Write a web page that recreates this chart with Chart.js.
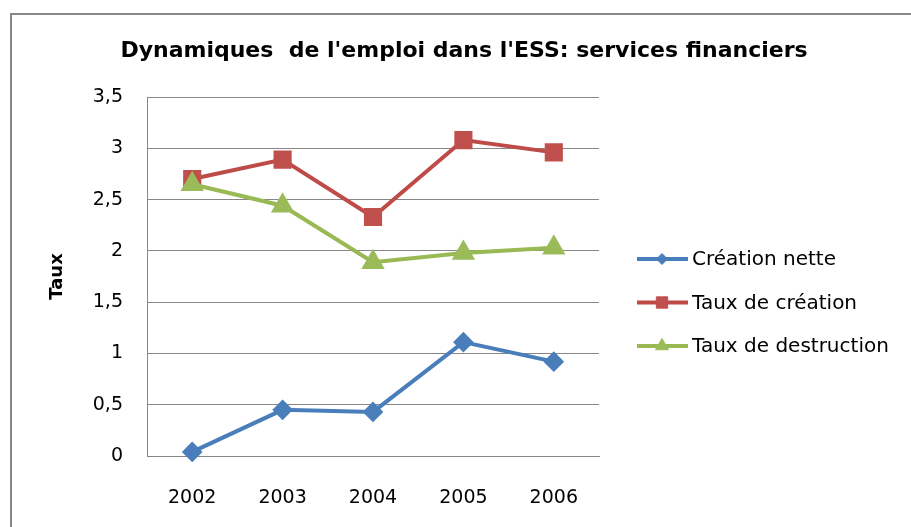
<!DOCTYPE html>
<html>
<head>
<meta charset="utf-8">
<script src="https://cdn.jsdelivr.net/npm/chart.js@4/dist/chart.umd.min.js"></script>
<style>
  html, body { margin: 0; padding: 0; background: #fff; }
  #wrap { width: 911px; height: 527px; position: relative; }
</style>
</head>
<body>
<div id="wrap"><canvas id="graphique" width="911" height="527"></canvas></div>
<script>
// Données
const annees = ['2002', '2003', '2004', '2005', '2006'];
const creationNette = [0.04, 0.45, 0.43, 1.11, 0.92];
const tauxCreation = [2.70, 2.89, 2.33, 3.08, 2.96];
const tauxDestruction = [2.65, 2.44, 1.89, 1.98, 2.03];
const nomsSeries = ['Création nette', 'Taux de création', 'Taux de destruction'];
const titre = "Dynamiques  de l'emploi dans l'ESS: services financiers";

const police = '"DejaVu Sans", sans-serif';

// Cadre, titre et légende dessinés à la main (style Excel)
const habillage = {
    id: 'habillage',
    beforeDraw(chart) {
        const ctx = chart.ctx;
        ctx.save();
        ctx.strokeStyle = '#878787';
        ctx.lineWidth = 2;
        ctx.strokeRect(11, 14, 950, 600);
        ctx.restore();
    },
    afterDraw(chart) {
        const ctx = chart.ctx;
        ctx.save();
        ctx.fillStyle = '#000';
        ctx.font = 'bold 22px ' + police;
        ctx.textAlign = 'center';
        ctx.textBaseline = 'middle';
        ctx.fillText(titre, 464, 51);

        ctx.font = '20px ' + police;
        ctx.textAlign = 'left';
        chart.data.datasets.forEach(function (ds, i) {
            const y = 259 + i * 43.5;
            ctx.strokeStyle = ds.borderColor;
            ctx.lineWidth = 4;
            ctx.beginPath();
            ctx.moveTo(637, y);
            ctx.lineTo(688, y);
            ctx.stroke();
            ctx.fillStyle = ds.pointBackgroundColor;
            ctx.strokeStyle = ds.pointBorderColor;
            ctx.lineWidth = 1;
            Chart.helpers.drawPoint(ctx, {
                pointStyle: ds.pointStyle,
                radius: ds.pointRadius - 2,
                borderWidth: 1,
                rotation: 0
            }, 662, y);
            ctx.fillStyle = '#000';
            ctx.fillText(ds.label, 692, y + 1);
        });
        ctx.restore();
    }
};

const ctx = document.getElementById('graphique').getContext('2d');
new Chart(ctx, {
    type: 'line',
    data: {
        labels: annees,
        datasets: [{
            label: nomsSeries[0],
            data: creationNette,
            borderColor: '#4A7EBB',
            pointBackgroundColor: '#4A7EBB',
            pointBorderColor: '#4A7EBB',
            pointStyle: 'rectRot',
            pointRadius: 7.5,
            borderWidth: 4,
            order: 2
        }, {
            label: nomsSeries[1],
            data: tauxCreation,
            borderColor: '#BE4B48',
            pointBackgroundColor: '#C0504D',
            pointBorderColor: '#C0504D',
            pointStyle: 'rect',
            pointRadius: 10,
            borderWidth: 4,
            order: 1
        }, {
            label: nomsSeries[2],
            data: tauxDestruction,
            borderColor: '#98B954',
            pointBackgroundColor: '#9BBB59',
            pointBorderColor: '#9BBB59',
            pointStyle: 'triangle',
            pointRadius: 9.5,
            borderWidth: 4,
            order: 0
        }]
    },
    options: {
        responsive: false,
        animation: false,
        devicePixelRatio: 1,
        clip: false,
        elements: { line: { tension: 0 } },
        layout: { padding: { left: 47, top: 97, right: 312, bottom: 11 } },
        plugins: {
            legend: { display: false },
            title: { display: false },
            tooltip: { enabled: false }
        },
        scales: {
            x: {
                offset: true,
                grid: { display: false },
                border: { display: true, color: '#878787', width: 1 },
                ticks: { color: '#000', padding: 23, font: { family: police, size: 19 } },
                afterFit: function (s) { s.height = 60; }
            },
            y: {
                min: 0,
                max: 3.5,
                ticks: {
                    stepSize: 0.5,
                    color: '#000',
                    padding: 24,
                    font: { family: police, size: 19 },
                    callback: function (v) { return String(v).replace('.', ','); }
                },
                grid: { color: '#878787', drawTicks: false, lineWidth: 1 },
                border: { display: true, color: '#878787', width: 1 },
                title: {
                    display: true,
                    text: 'Taux',
                    color: '#000',
                    padding: 0,
                    font: { family: police, size: 18, weight: 'bold' }
                },
                afterFit: function (s) { s.width = 100; }
            }
        }
    },
    plugins: [habillage]
});
</script>
</body>
</html>
